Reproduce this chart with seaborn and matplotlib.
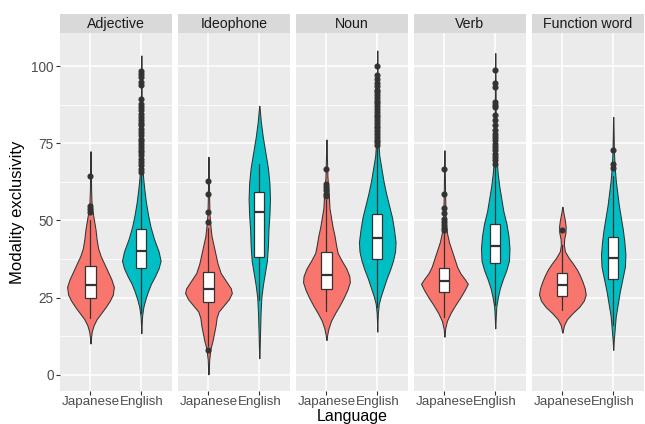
import numpy as np
import pandas as pd
import seaborn as sns
import matplotlib.pyplot as plt
from matplotlib.patches import Rectangle
from matplotlib.ticker import MultipleLocator, FixedLocator

# ---------------------------------------------------------------- data
parts_of_speech = ["Adjective", "Ideophone", "Noun", "Verb", "Function word"]
languages = ["Japanese", "English"]
lang_colors = ["#F8766D", "#00BFC4"]
y_ticks = [0, 25, 50, 75, 100]

# box statistics, ordered Adjective-Japanese, Adjective-English, Ideophone-Japanese, ...
box_q1 = [25.0, 34.5, 23.6, 38.1, 27.9, 37.5, 26.8, 36.1, 25.4, 31.0]
box_median = [29.1, 40.1, 27.7, 52.9, 32.2, 44.3, 30.5, 41.8, 29.1, 37.9]
box_q3 = [35.2, 47.1, 33.4, 59.2, 39.8, 52.2, 34.6, 49.0, 32.9, 44.8]
whisker_low = [18.3, 20.0, 9.5, 24.2, 20.8, 22.0, 18.9, 22.6, 21.0, 16.0]
whisker_high = [50.0, 65.5, 47.5, 68.4, 56.5, 73.8, 46.2, 68.2, 42.0, 64.5]

outliers = [
    [64.4, 54.6, 53.6, 52.6],
    [98.4, 97.4, 96.4, 94.8, 93.8, 89.4, 87.8, 86.7, 85.7, 84.6, 83.5, 82.4,
     81.6, 80.8, 79.7, 78.7, 77.6, 76.5, 75.6, 74.9, 73.8, 72.9, 72.2, 71.1,
     70.0, 69.0, 67.9, 66.8, 65.7],
    [62.9, 58.5, 52.8, 49.6, 7.9],
    [],
    [66.8, 61.7, 60.9, 59.8, 58.7, 57.9],
    [100.0, 97.2, 95.8, 94.6, 93.5, 92.4, 91.5, 90.6, 89.7, 88.8, 87.9, 87.0,
     86.1, 85.2, 84.3, 83.4, 82.5, 81.6, 80.7, 79.8, 78.9, 78.0, 77.1, 76.2,
     75.3, 74.4],
    [66.8, 58.7, 53.9, 52.3, 50.6, 49.6, 48.5, 47.6, 47.0],
    [98.7, 94.5, 93.2, 88.4, 87.3, 86.7, 84.1, 82.4, 80.8, 79.2, 78.1, 77.0,
     76.0, 74.9, 73.8, 72.7, 71.6, 70.6, 69.5, 68.4],
    [46.9],
    [72.7, 68.4, 67.1],
]

# violin outlines: density level -> half width (category units), top to bottom
violin_levels = [
    [72.4, 66, 60, 56, 53, 50, 47, 44, 41, 38.5, 36, 33.5, 31, 28.5, 26, 24, 22, 20, 18, 16, 14, 12, 10.2],
    [103.4, 95, 85, 75, 68, 64, 60, 56, 52, 48, 44, 40, 37, 34.5, 32, 29.5, 27, 24.5, 22, 19, 16, 13.5],
    [70.6, 64, 58, 52, 48, 45, 42, 39, 36, 33, 30.5, 28, 26.5, 24.5, 22.5, 20.5, 18.5, 16, 13.5, 11, 8.5, 5, 0.2],
    [87.1, 82, 77, 72, 67, 62, 57, 52, 47, 42, 37, 33, 29, 25, 20, 14, 9, 5.4],
    [76.2, 70, 64, 60, 57, 54, 51, 48, 45, 42, 39.5, 37, 34.5, 32, 30, 27.5, 25, 22.5, 20, 17.5, 15, 13, 11.3],
    [105, 95, 85, 76, 71, 67, 63, 59, 55, 51, 47, 43, 40, 37, 34, 31, 28, 25.5, 23, 20, 17, 14],
    [72.7, 66, 60, 54, 49, 46, 43, 40, 37.5, 35, 33, 31, 29.5, 27.5, 25, 22.5, 20, 17.5, 15, 12.4],
    [104.2, 95, 85, 75, 69, 65, 61, 57, 53, 49, 45, 41, 37, 34, 31, 28, 25, 22, 18, 15.1],
    [54.4, 52.5, 50, 48, 46, 44, 42, 40, 38, 36, 34, 32, 30, 28, 26, 24, 22, 20, 18, 16, 13.7],
    [83.5, 78, 72, 67, 63, 59, 55, 51, 47, 43, 39, 35, 31, 27, 23, 19, 15, 11, 8.1],
]
violin_halfwidths = [
    [0.004, 0.008, 0.012, 0.02, 0.04, 0.07, 0.10, 0.12, 0.15, 0.20, 0.27, 0.34, 0.41, 0.46, 0.44, 0.38, 0.30, 0.21, 0.12, 0.06, 0.025, 0.01, 0.003],
    [0.004, 0.006, 0.008, 0.012, 0.02, 0.035, 0.06, 0.09, 0.13, 0.18, 0.25, 0.34, 0.38, 0.34, 0.27, 0.19, 0.13, 0.08, 0.04, 0.015, 0.006, 0.002],
    [0.004, 0.008, 0.012, 0.02, 0.04, 0.06, 0.10, 0.14, 0.18, 0.24, 0.34, 0.44, 0.46, 0.40, 0.30, 0.20, 0.16, 0.14, 0.11, 0.08, 0.04, 0.015, 0.003],
    [0.003, 0.03, 0.07, 0.12, 0.17, 0.20, 0.21, 0.20, 0.18, 0.17, 0.15, 0.11, 0.07, 0.04, 0.025, 0.015, 0.008, 0.002],
    [0.004, 0.01, 0.02, 0.04, 0.05, 0.06, 0.09, 0.12, 0.16, 0.19, 0.22, 0.30, 0.39, 0.45, 0.46, 0.41, 0.34, 0.26, 0.17, 0.09, 0.04, 0.015, 0.003],
    [0.003, 0.006, 0.01, 0.02, 0.04, 0.08, 0.12, 0.17, 0.23, 0.29, 0.33, 0.36, 0.35, 0.31, 0.25, 0.18, 0.12, 0.07, 0.03, 0.012, 0.005, 0.002],
    [0.003, 0.008, 0.012, 0.02, 0.03, 0.05, 0.09, 0.15, 0.20, 0.25, 0.31, 0.40, 0.46, 0.40, 0.31, 0.21, 0.12, 0.05, 0.015, 0.003],
    [0.003, 0.006, 0.009, 0.015, 0.03, 0.05, 0.08, 0.12, 0.16, 0.22, 0.26, 0.28, 0.27, 0.22, 0.15, 0.09, 0.05, 0.02, 0.008, 0.002],
    [0.004, 0.02, 0.05, 0.065, 0.06, 0.035, 0.03, 0.05, 0.12, 0.21, 0.29, 0.35, 0.40, 0.44, 0.46, 0.42, 0.33, 0.20, 0.09, 0.03, 0.003],
    [0.003, 0.008, 0.015, 0.03, 0.05, 0.08, 0.11, 0.15, 0.19, 0.22, 0.24, 0.23, 0.18, 0.13, 0.09, 0.05, 0.03, 0.01, 0.002],
]

# ---------------------------------------------------------------- style
sns.set_theme(style="darkgrid", rc={
    "axes.facecolor": "#EBEBEB",
    "grid.color": "white",
    "grid.linewidth": 1.1,
    "xtick.bottom": True,
    "ytick.left": True,
    "xtick.color": "#333333",
    "ytick.color": "#333333",
    "xtick.labelcolor": "#4D4D4D",
    "ytick.labelcolor": "#4D4D4D",
})
plt.rcParams["font.family"] = ["Liberation Sans", "DejaVu Sans"]

frame = pd.DataFrame({"pos": parts_of_speech})
g = sns.FacetGrid(frame, col="pos", col_order=parts_of_speech, sharey=True,
                  height=4, aspect=0.3, despine=False)
fig = g.figure
fig.set_size_inches(6.45, 4.24)
fig.subplots_adjust(left=0.093, right=0.998, bottom=0.078, top=0.922, wspace=0.055)
g.set_titles("")
g.set_axis_labels("", "")

ink = "#333333"
panel_height_px = 358.0

for p, pos in enumerate(parts_of_speech):
    ax = g.axes_dict[pos]
    for j, lang in enumerate(languages):
        k = 2 * p + j
        lv = np.asarray(violin_levels[k])
        hw = np.asarray(violin_halfwidths[k])
        ax.fill_betweenx(lv, j - hw, j + hw, facecolor=lang_colors[j],
                         edgecolor=ink, linewidth=0.75, zorder=2)
        stats = dict(med=box_median[k], q1=box_q1[k], q3=box_q3[k],
                     whislo=whisker_low[k], whishi=whisker_high[k],
                     fliers=outliers[k])
        ax.bxp([stats], positions=[j], widths=0.2, patch_artist=True,
               showcaps=False, manage_ticks=False, zorder=3,
               boxprops=dict(facecolor="white", edgecolor=ink, linewidth=0.9),
               medianprops=dict(color=ink, linewidth=1.6),
               whiskerprops=dict(color=ink, linewidth=0.9),
               flierprops=dict(marker="o", markersize=3.4, markerfacecolor=ink,
                               markeredgecolor=ink, linestyle="none"))

    ax.set_xlim(-0.6, 1.6)
    ax.set_ylim(-5.2, 110.7)
    ax.xaxis.set_major_locator(FixedLocator([0, 1]))
    ax.set_xticklabels(languages, fontsize=9.6)
    ax.yaxis.set_major_locator(FixedLocator(y_ticks))
    ax.yaxis.set_minor_locator(MultipleLocator(12.5))
    ax.grid(which="major", color="white", linewidth=1.1)
    ax.grid(which="minor", axis="y", color="white", linewidth=0.55)
    ax.tick_params(axis="both", which="major", length=2.6, width=0.8,
                   color=ink, pad=1.8)
    ax.tick_params(axis="x", which="major", pad=1.0)
    ax.tick_params(axis="y", which="minor", length=0)
    if p == 0:
        ax.set_yticklabels([str(t) for t in y_ticks], fontsize=9.8)
    else:
        ax.tick_params(axis="y", which="both", left=False, labelleft=False)
    for s in ax.spines.values():
        s.set_visible(False)
    ax.set_axisbelow(True)

    # facet strip
    ax.add_patch(Rectangle((0, 1), 1, 19 / panel_height_px, transform=ax.transAxes,
                           clip_on=False, facecolor="#D9D9D9", edgecolor="none"))
    ax.text(0.5, 1 + 9.5 / panel_height_px, pos, transform=ax.transAxes,
            ha="center", va="center", fontsize=10.2, color="#1A1A1A")

fig.text(0.5465, 1 - 416.5 / 424, "Language", ha="center", va="center",
         fontsize=11.5, color="black")
fig.text(18 / 645, 1 - 212 / 424, "Modality exclusivity", ha="center",
         va="center", rotation=90, fontsize=12, color="black")

fig.savefig("out.png", dpi=100)
